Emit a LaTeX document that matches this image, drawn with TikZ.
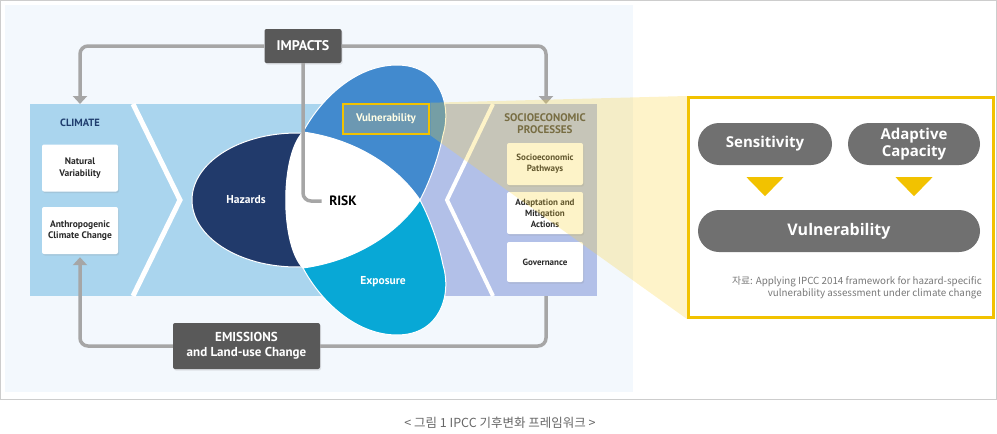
\documentclass[tikz,border=0pt]{standalone}
\usepackage{fontspec}
\setmainfont{PT Sans}
\newfontfamily\kofont{Noto Sans CJK KR}
\newfontfamily\pillfont{Open Sans}
\usepackage{xcolor}
\definecolor{PanelBg}{RGB}{243,248,253}
\definecolor{FrameGray}{RGB}{205,205,205}
\definecolor{BandBlue}{RGB}{170,213,238}
\definecolor{BandLilac}{RGB}{178,192,232}
\definecolor{HazardNavy}{RGB}{33,58,107}
\definecolor{VulnBlue}{RGB}{66,138,206}
\definecolor{ExpoCyan}{RGB}{8,168,214}
\definecolor{LinkGray}{RGB}{166,166,166}
\definecolor{BoxDark}{RGB}{89,89,89}
\definecolor{PillGray}{RGB}{112,112,112}
\definecolor{ClimNavy}{RGB}{31,61,110}
\definecolor{TextDark}{RGB}{40,40,40}
\definecolor{SocioGray}{RGB}{70,70,70}
\definecolor{Gold}{RGB}{242,194,0}
\definecolor{ZoomYellow}{RGB}{250,212,60}
\definecolor{VulnBoxFill}{RGB}{108,152,178}
\definecolor{SrcGray}{RGB}{120,120,120}
\usetikzlibrary{arrows.meta, positioning, calc, shadows}
\tikzset{
  % soft shadow for boxes
  softshadow/.style={drop shadow={opacity=0.18, shadow xshift=1pt, shadow yshift=-1.5pt}},
  % dark label boxes
  darkbox/.style={
    rectangle, rounded corners=2pt, fill=BoxDark, text=white,
    align=center, inner sep=2pt, softshadow,
    font=\bfseries\fontsize{13}{15}\selectfont
  },
  % small white boxes
  whitebox/.style={
    rectangle, rounded corners=2pt, fill=white, text=TextDark,
    align=center, inner sep=1pt, minimum width=76pt, softshadow,
    font=\bfseries\fontsize{9.5}{11.5}\selectfont
  },
  % text on the blobs
  blobtext/.style={text=white, font=\bfseries\fontsize{11.5}{13}\selectfont},
  blob/.style={draw=white, line width=1pt},
  % connectors
  link/.style={draw=LinkGray, line width=3.5pt, rounded corners=8pt},
  linkarr/.style={link, -{Triangle[length=8pt,width=14pt]}},
  % grey pills of the zoom panel
  pill/.style={
    rectangle, rounded corners=21pt, fill=PillGray, text=white,
    minimum height=42pt, inner sep=0pt, align=center,
    font=\pillfont\bfseries\fontsize{15}{17}\selectfont
  },
}

\begin{document}
\begin{tikzpicture}[x=1pt, y=-1pt]
  \useasboundingbox (0,0) rectangle (997,434);

  %% Frame and background
  \draw[FrameGray, line width=1pt] (0.5,0.5) rectangle (996.5,399);
  \fill[PanelBg] (5,5) rectangle (633,392);

  %% Bands
  \fill[BandBlue] (30,104) rectangle (420,296);
  \fill[BandLilac] (420,104) rectangle (597,296);
  \draw[white, line width=5pt] (133,104) -- (180,200) -- (133,296);
  \draw[white, line width=4pt] (493,104) -- (447,200) -- (493,296);

  %% Blobs
  \filldraw[fill=HazardNavy, blob] (297,200) ellipse [x radius=105pt, y radius=67pt];
  \filldraw[fill=VulnBlue, blob] (303,132) .. controls (320,100) and (355,65) .. (397,65)
    .. controls (440,65) and (452,105) .. (443,135)
    .. controls (438,160) and (428,185) .. (420,200)
    .. controls (380,190) and (330,170) .. cycle;
  \filldraw[fill=ExpoCyan, blob] (303,268) .. controls (320,300) and (355,335) .. (397,335)
    .. controls (440,335) and (452,295) .. (443,265)
    .. controls (438,240) and (428,215) .. (420,200)
    .. controls (380,210) and (330,230) .. cycle;
  \filldraw[fill=white, blob] (303,132) .. controls (360,140) and (400,170) .. (420,200)
    .. controls (400,230) and (360,260) .. (303,268)
    .. controls (280,245) and (280,155) .. cycle;

  %% Components
  \node[darkbox, minimum width=77pt, minimum height=34pt, font=\bfseries\fontsize{14}{15}\selectfont] (impacts) at (303,46) {IMPACTS};
  \node[darkbox, minimum width=147pt, minimum height=46pt] (emissions) at (246.5,346) {EMISSIONS\\and Land-use Change};

  \node[text=ClimNavy, font=\bfseries\fontsize{10.5}{12}\selectfont] (climate) at (80,123) {CLIMATE};
  \node[whitebox, minimum height=47pt] (natvar) at (80,168) {Natural\\Variability};
  \node[whitebox, minimum height=47pt] (anthro) at (80,230.5) {Anthropogenic\\Climate Change};

  \node[blobtext] (hazards) at (246,200) {Hazards};
  \node[font=\bfseries\fontsize{13.5}{15}\selectfont, text=black] (risk) at (343,201) {RISK};
  \node[blobtext] (exposure) at (383,282) {Exposure};
  \node[draw=Gold, line width=2.5pt, fill=VulnBoxFill, text=white!90!yellow,
        minimum width=86pt, minimum height=30pt, inner sep=0pt,
        font=\bfseries\fontsize{11}{13}\selectfont] (vulnbox) at (386,119) {Vulnerability};

  \node[text=SocioGray, align=center, font=\bfseries\fontsize{11}{12}\selectfont] (socio) at (545,124) {SOCIOECONOMIC\\PROCESSES};
  \node[whitebox, minimum height=42pt, font=\bfseries\fontsize{9}{11}\selectfont] (pathways) at (545,164) {Socioeconomic\\Pathways};
  \node[whitebox, minimum height=42pt, font=\bfseries\fontsize{9}{11}\selectfont] (adapt) at (545,213) {Adaptation and\\Mitigation\\Actions};
  \node[whitebox, minimum height=40pt, font=\bfseries\fontsize{9}{11}\selectfont] (governance) at (545,262) {Governance};

  \coordinate (climtop) at (80,104);
  \coordinate (sociotop) at (546,104);
  \coordinate (sociobot) at (546,296);

  %% Flow
  \draw[linkarr] (impacts.west) -| (climtop);
  \draw[linkarr] (impacts.east) -| (sociotop);
  \draw[link, shorten >=4pt] (impacts.south) |- (risk.west);
  \draw[linkarr, shorten >=3pt] (emissions.west) -| (anthro.south);
  \draw[link] (emissions.east) -| (sociobot);

  %% Zoom panel
  \node[draw=Gold, line width=3pt, fill=white, minimum width=305pt, minimum height=220pt, inner sep=0pt] (zoompanel) at (841,207.5) {};
  \fill[ZoomYellow, opacity=0.28] (vulnbox.north east) -- (zoompanel.north west)
    -- (zoompanel.south west) -- (vulnbox.south east) -- cycle;

  \node[pill, minimum width=134pt] (sens) at (765,144) {Sensitivity};
  \node[pill, minimum width=132pt] (adaptcap) at (914,144) {Adaptive\\Capacity};
  \node[pill, minimum width=282pt, font=\pillfont\bfseries\fontsize{16}{18}\selectfont] (vulnpill) at (839,231) {Vulnerability};
  \fill[Gold] ($(sens.south)+(-18.5,12)$) -- ++(37,0) -- ++(-18.5,19) -- cycle;
  \fill[Gold] ($(adaptcap.south)+(-18.5,12)$) -- ++(37,0) -- ++(-18.5,19) -- cycle;

  \node[anchor=north east, align=right, inner sep=0pt, text=SrcGray,
        font=\kofont\fontsize{9.8}{12}\selectfont] (source) at (982,276)
        {자료: Applying IPCC 2014 framework for hazard-specific\\vulnerability assessment under climate change};

  %% Caption
  \node[text=black!60, font=\kofont\fontsize{12.5}{14}\selectfont] (caption) at (500,423) {< 그림 1 IPCC 기후변화 프레임워크 >};

\end{tikzpicture}
\end{document}
